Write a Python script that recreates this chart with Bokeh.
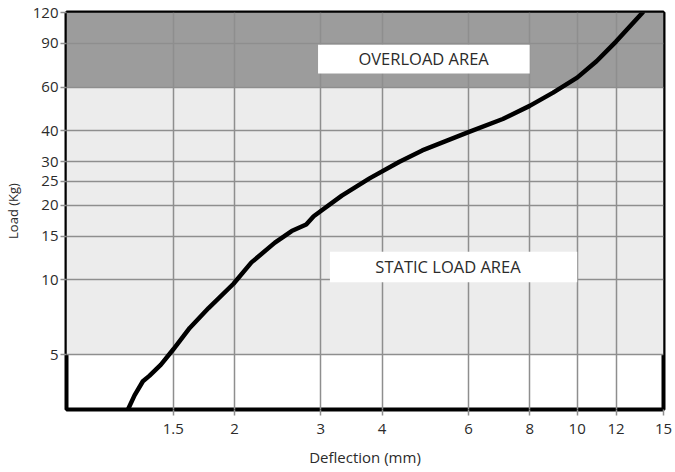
from bokeh.plotting import figure
from bokeh.models import FixedTicker, NumeralTickFormatter, BoxAnnotation, Label, Range1d
from bokeh.embed import file_html
from bokeh.resources import INLINE

# Load / deflection curve
deflection = [1.21, 1.25, 1.30, 1.34, 1.415, 1.50, 1.62, 1.77, 1.99, 2.165, 2.417, 2.615,
              2.80, 2.90, 3.31, 3.77, 4.34, 4.83, 6.0, 7.05, 8.0, 8.93, 10.0, 10.95,
              12.0, 13.44, 13.6]
load = [2.98, 3.42, 3.9, 4.1, 4.55, 5.25, 6.4, 7.7, 9.65, 11.77, 14.14, 15.75,
        16.74, 18.08, 21.9, 25.7, 30.0, 33.3, 39.5, 44.6, 50.4, 57.0, 65.5, 76.3,
        91.6, 117.0, 120.0]

x_ticks = [1.5, 2, 3, 4, 6, 8, 10, 12, 15]
y_ticks = [5, 10, 15, 20, 25, 30, 40, 60, 90, 120]

# Load zones
zone_names = ["OVERLOAD AREA", "STATIC LOAD AREA"]
zone_low = [60, 5]
zone_high = [120, 60]
zone_colors = ["#9c9c9c", "#ececec"]

FONT = "Open Sans"
TXT = "#2b2b2b"
GRID = "#8e8e8e"

X0, X1 = 0.908, 15
Y0, Y1 = 3, 120

p = figure(width=675, height=472, x_axis_type="log", y_axis_type="log",
           x_range=Range1d(X0, X1), y_range=Range1d(Y0, Y1),
           output_backend="svg", toolbar_location=None,
           min_border_left=66, min_border_right=12, min_border_top=12, min_border_bottom=63,
           background_fill_color="white", border_fill_color="white")

for lo, hi, col in zip(zone_low, zone_high, zone_colors):
    p.add_layout(BoxAnnotation(bottom=lo, top=hi, fill_color=col, fill_alpha=1.0,
                               line_color=None, level="image"))

# grids
p.xgrid.ticker = FixedTicker(ticks=x_ticks)
p.ygrid.ticker = FixedTicker(ticks=y_ticks)
for g in (p.xgrid, p.ygrid):
    g.grid_line_color = GRID
    g.grid_line_width = 1.5
    g.minor_grid_line_color = None

# axes
p.xaxis.ticker = FixedTicker(ticks=x_ticks)
p.yaxis.ticker = FixedTicker(ticks=y_ticks)
for ax in (p.xaxis, p.yaxis):
    ax.formatter = NumeralTickFormatter(format="0.[0]")
    ax.axis_line_color = None
    ax.major_tick_line_color = GRID
    ax.major_tick_line_width = 1.5
    ax.major_tick_out = 6
    ax.major_tick_in = 0
    ax.minor_tick_line_color = None
    ax.major_label_text_font = FONT
    ax.major_label_text_font_size = "15px"
    ax.major_label_text_color = TXT
    ax.axis_label_text_font = FONT
    ax.axis_label_text_font_style = "normal"
    ax.axis_label_text_color = TXT

p.xaxis.axis_label = "Deflection (mm)"
p.xaxis.axis_label_text_font_size = "15px"
p.xaxis.major_label_standoff = 8
p.xaxis.axis_label_standoff = 10
p.yaxis.axis_label = "Load (Kg)"
p.yaxis.axis_label_text_font_size = "13px"
p.yaxis.major_label_standoff = 2
p.yaxis.axis_label_standoff = 8

p.outline_line_color = "black"
p.outline_line_width = 4

# curve
p.line(deflection, load, line_color="black", line_width=4.5,
       line_join="round", line_cap="round")

# area label boxes
p.add_layout(BoxAnnotation(left=2.96, right=8.0, bottom=68.1, top=88.9,
                           fill_color="white", fill_alpha=1.0, line_color=None))
p.add_layout(BoxAnnotation(left=3.13, right=10.0, bottom=9.79, top=12.98,
                           fill_color="white", fill_alpha=1.0, line_color=None))
p.add_layout(Label(x=4.86, y=78.5, text=zone_names[0], text_align="center",
                   text_baseline="middle", text_font=FONT, text_font_size="16.5px",
                   text_color=TXT))
p.add_layout(Label(x=5.45, y=11.35, text=zone_names[1], text_align="center",
                   text_baseline="middle", text_font=FONT, text_font_size="16.5px",
                   text_color=TXT))

open("out.html", "w").write(file_html(p, INLINE))
